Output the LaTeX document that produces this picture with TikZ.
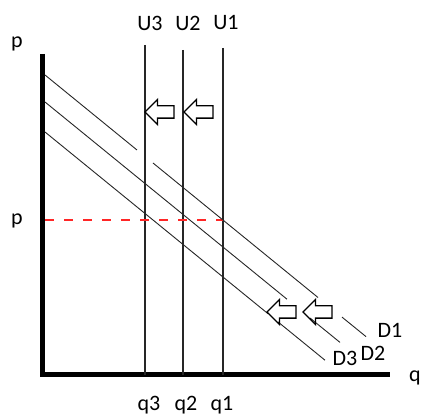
\documentclass[tikz,border=0pt]{standalone}
\usepackage{fontspec}
\setmainfont{Carlito}
\usetikzlibrary{shapes.arrows}
\tikzset{
  axisline/.style={line width=5pt,black},
  uline/.style={line width=1.4pt,black!85},
  dline/.style={line width=0.9pt,black!85},
  pline/.style={line width=1.2pt,red!85!white,dash pattern=on 9pt off 10pt},
  lbl/.style={font=\fontsize{22}{26}\selectfont,inner sep=0pt},
  shiftarrow/.style={draw,line width=1.3pt,single arrow,shape border rotate=180,
    minimum height=29pt,minimum width=24pt,inner sep=5.5pt,single arrow head extend=6.5pt}
}

\begin{document}
\begin{tikzpicture}[x=1pt,y=-1pt]
\useasboundingbox (0,0) rectangle (424,417);
% axes
\coordinate (O) at (42,375);
\coordinate (ptop) at (42,54);
\coordinate (qend) at (390,375);
\draw[axisline] (ptop) -- (O) -- (qend);
\node[lbl] (pax) at (17,44) {p};
\node[lbl] (qax) at (415,378) {q};
\node[lbl] (pstar) at (17,221) {p};
% supply lines
\node[lbl] (u3) at (150,23) {U3};
\node[lbl] (u2) at (188,23) {U2};
\node[lbl] (u1) at (226,23) {U1};
\coordinate (u3top) at (145,45);  \coordinate (u3bot) at (145,375);
\coordinate (u2top) at (183,50);  \coordinate (u2bot) at (183,375);
\coordinate (u1top) at (223,48);  \coordinate (u1bot) at (223,375);
\draw[uline] (u3top) -- (u3bot);
\draw[uline] (u2top) -- (u2bot);
\draw[uline] (u1top) -- (u1bot);
\node[lbl] (q3) at (149,405) {q3};
\node[lbl] (q2) at (186,405) {q2};
\node[lbl] (q1) at (222,405) {q1};
% price level
\coordinate (pleft) at (45,220);
\draw[pline] (pleft) -- (223,220);
% demand lines
\draw[dline] (45,75) -- (137,150.0);
\draw[dline] (153,163.0) -- (318,297.5);
\draw[dline] (342,317.1) -- (366,336.6);
\draw[dline] (45,102) -- (287,299.2);
\draw[dline] (310,318.0) -- (340,342.4);
\draw[dline] (45,132) -- (268,313.7);
\draw[dline] (278,321.9) -- (325,360.2);
\node[lbl] (d1) at (390,330) {D1};
\node[lbl] (d2) at (373,353) {D2};
\node[lbl] (d3) at (345,358) {D3};
% shift arrows
\node[shiftarrow] (su1) at (162.5,112) {};
\node[shiftarrow] (su2) at (201.5,112) {};
\node[shiftarrow] (sd1) at (284.5,312) {};
\node[shiftarrow] (sd2) at (320.5,312) {};
\end{tikzpicture}
\end{document}
